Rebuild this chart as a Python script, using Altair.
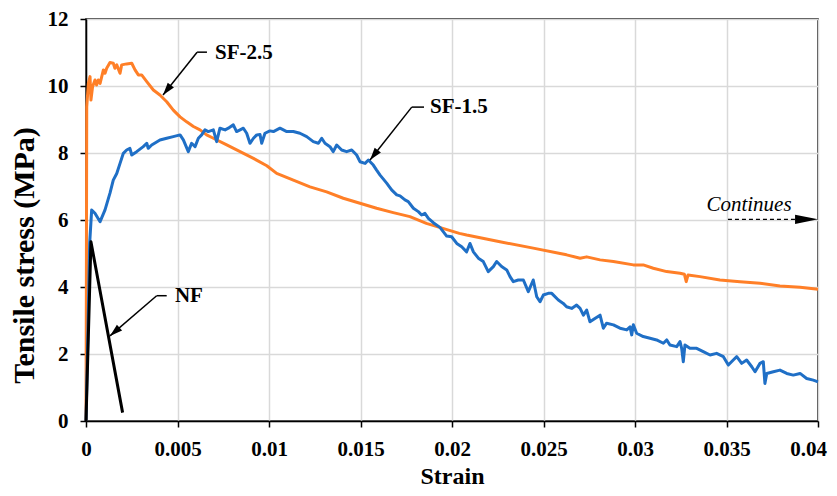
import altair as alt
import pandas as pd

# ---------------- data ----------------
x_ticks = [0, 0.005, 0.01, 0.015, 0.02, 0.025, 0.03, 0.035, 0.04]
y_ticks = [0, 2, 4, 6, 8, 10, 12]

nf_strain = [0.0, 0.00027, 0.0020]
nf_stress = [0.0, 5.35, 0.25]

sf25_strain = [0.0, 0.00002, 0.00004, 0.00013, 0.00022, 0.00027, 0.00036, 0.00049, 0.00058, 0.00067,
               0.00077, 0.00095, 0.00104, 0.00113, 0.00131, 0.00149, 0.00158, 0.00168, 0.00186, 0.00195,
               0.00222, 0.0025, 0.00268, 0.00286, 0.00304, 0.00332, 0.00368, 0.00404, 0.00441, 0.00477,
               0.00514, 0.0055, 0.00587, 0.00623, 0.00659, 0.00696, 0.00769, 0.00842, 0.00915, 0.00988,
               0.01042, 0.01133, 0.01224, 0.01315, 0.01406, 0.01497, 0.01588, 0.01679, 0.0177, 0.0186,
               0.0195, 0.0204, 0.0208, 0.02262, 0.02444, 0.02626, 0.027, 0.02736, 0.02809, 0.02882,
               0.02991, 0.03045, 0.031, 0.03173, 0.03246, 0.0327, 0.0328, 0.0329, 0.03355, 0.03464,
               0.03574, 0.03683, 0.03792, 0.03902, 0.04]
sf25_stress = [0.0, 4.0, 9.38, 10.08, 10.28, 9.58, 9.98, 10.18, 10.03, 10.18,
               10.08, 10.48, 10.38, 10.53, 10.70, 10.68, 10.53, 10.63, 10.38, 10.63,
               10.66, 10.68, 10.48, 10.33, 10.33, 10.13, 9.88, 9.73, 9.53, 9.28,
               9.08, 8.93, 8.79, 8.69, 8.54, 8.44, 8.24, 8.04, 7.84, 7.62,
               7.39, 7.19, 6.99, 6.84, 6.65, 6.50, 6.35, 6.22, 6.10, 5.90,
               5.75, 5.60, 5.55, 5.35, 5.16, 4.96, 4.86, 4.90, 4.81, 4.76,
               4.66, 4.66, 4.56, 4.46, 4.41, 4.38, 4.16, 4.36, 4.31, 4.21,
               4.16, 4.11, 4.03, 3.99, 3.93]

sf15_strain = [0.0, 0.0001, 0.0002, 0.00031, 0.00049, 0.00077, 0.00104, 0.00131, 0.00149, 0.00168,
               0.00186, 0.00204, 0.00222, 0.0024, 0.0025, 0.00277, 0.00313, 0.00332, 0.0034, 0.00359,
               0.00404, 0.00441, 0.00477, 0.00514, 0.00532, 0.00559, 0.00577, 0.00596, 0.00614, 0.00632,
               0.0065, 0.00668, 0.00696, 0.00714, 0.00732, 0.0076, 0.00778, 0.00805, 0.00823, 0.00842,
               0.0086, 0.00878, 0.00896, 0.00915, 0.00933, 0.00951, 0.0096, 0.00978, 0.01005, 0.01024,
               0.0106, 0.01097, 0.01133, 0.01169, 0.01206, 0.01242, 0.0127, 0.01288, 0.01306, 0.01333,
               0.01351, 0.0137, 0.01397, 0.01424, 0.01452, 0.01479, 0.01497, 0.01525, 0.01543, 0.0157,
               0.01588, 0.01607, 0.01643, 0.0167, 0.01698, 0.01716, 0.01743, 0.01761, 0.01789, 0.01816,
               0.01834, 0.01852, 0.01871, 0.01898, 0.01934, 0.01971, 0.01998, 0.02026, 0.02053, 0.0208,
               0.02098, 0.02117, 0.02144, 0.02171, 0.02198, 0.02226, 0.02244, 0.02271, 0.02299, 0.02317,
               0.02335, 0.02362, 0.0239, 0.02417, 0.02444, 0.02463, 0.02481, 0.02499, 0.02526, 0.02545,
               0.02581, 0.02608, 0.02626, 0.02654, 0.02681, 0.027, 0.02718, 0.02736, 0.02754, 0.02781,
               0.02809, 0.02827, 0.02845, 0.02882, 0.02918, 0.02955, 0.02973, 0.02982, 0.02991, 0.03009,
               0.03045, 0.03082, 0.03118, 0.03155, 0.03173, 0.03191, 0.03228, 0.03246, 0.03255, 0.03264,
               0.03273, 0.033, 0.03337, 0.03373, 0.0341, 0.03446, 0.03483, 0.0351, 0.03537, 0.03556,
               0.03583, 0.0361, 0.03638, 0.03656, 0.03683, 0.03701, 0.0371, 0.0372, 0.03756, 0.03792,
               0.03829, 0.03865, 0.03902, 0.03938, 0.03974, 0.04]
sf15_stress = [0.0, 2.5, 5.3, 6.30, 6.20, 5.95, 6.30, 6.80, 7.19, 7.39,
               7.69, 7.99, 8.09, 8.14, 7.94, 8.04, 8.19, 8.29, 8.14, 8.24,
               8.39, 8.44, 8.49, 8.54, 8.39, 8.04, 8.29, 8.19, 8.44, 8.54,
               8.69, 8.64, 8.69, 8.34, 8.74, 8.69, 8.74, 8.84, 8.64, 8.69,
               8.74, 8.59, 8.29, 8.44, 8.54, 8.55, 8.29, 8.59, 8.66, 8.64,
               8.74, 8.64, 8.64, 8.59, 8.49, 8.34, 8.29, 8.44, 8.29, 8.19,
               8.04, 8.24, 8.09, 8.04, 8.09, 7.94, 7.74, 7.69, 7.79, 7.64,
               7.49, 7.34, 7.10, 6.90, 6.75, 6.72, 6.60, 6.55, 6.35, 6.25,
               6.15, 6.20, 6.05, 5.92, 5.78, 5.52, 5.50, 5.30, 5.20, 5.05,
               5.30, 5.05, 4.86, 4.76, 4.46, 4.61, 4.76, 4.61, 4.51, 4.31,
               4.16, 4.21, 4.21, 3.86, 4.21, 3.71, 3.56, 3.76, 3.81, 3.81,
               3.61, 3.51, 3.41, 3.36, 3.46, 3.36, 3.16, 3.31, 2.96, 3.06,
               3.16, 2.77, 2.92, 2.87, 2.77, 2.72, 2.81, 2.57, 2.87, 2.62,
               2.52, 2.47, 2.42, 2.32, 2.42, 2.27, 2.22, 2.37, 2.17, 1.77,
               2.27, 2.17, 2.17, 2.07, 1.97, 2.02, 1.92, 1.67, 1.82, 1.92,
               1.72, 1.82, 1.62, 1.47, 1.72, 1.77, 1.12, 1.42, 1.47, 1.52,
               1.42, 1.37, 1.42, 1.27, 1.22, 1.17]

# annotations
labels = ["SF-2.5", "SF-1.5", "NF"]
label_x = [0.00705, 0.0188, 0.00486]
label_y = [11.0, 9.36, 3.72]
tip_x = [0.00421, 0.01552, 0.00131]
tip_y = [9.73, 7.79, 2.54]
elbow_x = [0.00607, 0.0178, 0.00386]
elbow_y = [11.01, 9.37, 3.74]
end_x = [0.00661, 0.01847, 0.00441]
arrow_angle = [218, 218, 229]

cont_text = ["Continues"]
cont_text_x = [0.03623]
cont_text_y = [6.45]
cont_x = [0.03508, 0.0388]
cont_y = [6.02, 6.02]
cont_tip_x = [0.04]
cont_tip_y = [6.02]

# ---------------- build chart ----------------
FONT = "Liberation Serif"
ORANGE = "#FF7F27"
BLUE = "#1F6FC6"


def series_df(xs, ys):
    assert len(xs) == len(ys), (len(xs), len(ys))
    return pd.DataFrame({"strain": xs, "stress": ys, "i": list(range(len(xs)))})


x_scale = alt.Scale(domain=[0, 0.04], nice=False, zero=False)
y_scale = alt.Scale(domain=[0, 12], nice=False)

x_axis = alt.Axis(values=x_ticks, format="~g", title="Strain", titleFontSize=24,
                  titleY=62, titleBaseline="alphabetic", labelPadding=11,
                  labelFlush=False, labelOverlap=False,
                  labelOffset={"condition": {"test": "datum.value >= 0.0399", "value": -10}, "value": 0})
y_axis = alt.Axis(values=y_ticks, format="d", title="Tensile stress (MPa)", titleFontSize=30,
                  titleX=-62, titleY=236, titleAngle=270, titleBaseline="middle",
                  titleAlign="center", labelPadding=12)


def X(field):
    return alt.X(field, scale=x_scale, axis=x_axis, title="Strain")


def Y(field):
    return alt.Y(field, scale=y_scale, axis=y_axis, title="Tensile stress (MPa)")


def line_layer(xs, ys, color, width):
    df = series_df(xs, ys)
    return alt.Chart(df).mark_line(color=color, strokeWidth=width, strokeJoin="round").encode(
        x=X("strain:Q"), y=Y("stress:Q"), order="i:Q")


orange = line_layer(sf25_strain, sf25_stress, ORANGE, 3)
blue = line_layer(sf15_strain, sf15_stress, BLUE, 3)
black = line_layer(nf_strain, nf_stress, "black", 3)

seg_df = pd.DataFrame({
    "x0": elbow_x + end_x,
    "y0": elbow_y + elbow_y,
    "x1": tip_x + elbow_x,
    "y1": tip_y + elbow_y,
})
leaders = alt.Chart(seg_df).mark_rule(color="black", strokeWidth=1.5).encode(
    x=X("x0:Q"), y=Y("y0:Q"), x2="x1:Q", y2="y1:Q")

tip_df = pd.DataFrame({"x": tip_x, "y": tip_y, "angle": arrow_angle})
heads = alt.Chart(tip_df).mark_point(
    shape="M0,0 L-0.5,1.6 L0.5,1.6 Z", filled=True, color="black", opacity=1, size=250,
    strokeWidth=0).encode(
    x=X("x:Q"), y=Y("y:Q"),
    angle=alt.Angle("angle:Q", scale=None))

lab_df = pd.DataFrame({"x": label_x, "y": label_y, "t": labels})
texts = alt.Chart(lab_df).mark_text(
    align="left", baseline="middle", font=FONT, fontSize=21, fontWeight="bold", color="black").encode(
    x=X("x:Q"), y=Y("y:Q"), text="t:N")

cont_line_df = pd.DataFrame({"x": cont_x, "y": cont_y})
cont_line = alt.Chart(cont_line_df).mark_line(color="black", strokeWidth=1.3, strokeDash=[4, 3]).encode(
    x=X("x:Q"), y=Y("y:Q"))

cont_head_df = pd.DataFrame({"x": cont_tip_x, "y": cont_tip_y})
cont_head = alt.Chart(cont_head_df).mark_point(
    shape="M0,0 L-0.32,1.6 L0.32,1.6 Z", filled=True, color="black", opacity=1, size=820,
    strokeWidth=0, angle=90).encode(
    x=X("x:Q"), y=Y("y:Q"))

cont_txt_df = pd.DataFrame({"x": cont_text_x, "y": cont_text_y, "t": cont_text})
cont_txt = alt.Chart(cont_txt_df).mark_text(
    align="center", baseline="middle", font=FONT, fontSize=21, fontStyle="italic",
    fontWeight="normal", color="black").encode(
    x=X("x:Q"), y=Y("y:Q"), text="t:N")

chart = alt.layer(orange, blue, black, leaders, heads, texts, cont_line, cont_head, cont_txt).properties(
    width=732, height=402,
    autosize=alt.AutoSizeParams(type="none"),
    padding={"left": 78, "top": 11, "right": 11, "bottom": 67},
).configure_view(
    stroke="black", strokeWidth=1.5
).configure_axis(
    labelFont=FONT, labelFontSize=21, labelFontWeight="bold", labelColor="black",
    titleFont=FONT, titleFontWeight="bold", titleColor="black",
    gridColor="#D9D9D9", gridWidth=1.5, grid=True,
    domainColor="black", domainWidth=1.5,
    tickColor="black", tickSize=6, tickWidth=1.5,
)

chart.save("out.html", embed_options={"renderer": "svg", "actions": False})
